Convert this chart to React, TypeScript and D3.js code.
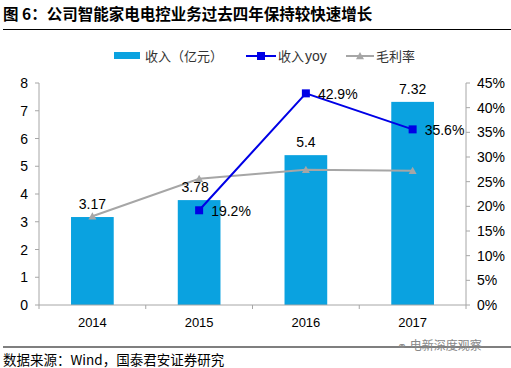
import { line, scaleBand, scaleLinear } from "d3";

const years = ["2014", "2015", "2016", "2017"];
const revenue = [3.17, 3.78, 5.4, 7.32];
const revenueYoy: (number | null)[] = [null, 19.2, 42.9, 35.6];
const grossMargin = [18.0, 25.6, 27.4, 27.2];
const leftTicks = [0, 1, 2, 3, 4, 5, 6, 7, 8];
const rightTicks = [0, 5, 10, 15, 20, 25, 30, 35, 40, 45];

const width = 511;
const height = 368;
const plot = { left: 39, right: 466, top: 83, bottom: 305 };
const font = "Arial, 'Liberation Sans', sans-serif";
const cjk = "'Noto Sans CJK SC', sans-serif";

export default function App() {
  const x = scaleBand<string>()
    .domain(years)
    .range([plot.left, plot.right])
    .paddingInner(0.6)
    .paddingOuter(0.3);
  const step = x.step();
  const yL = scaleLinear().domain([0, 8]).range([plot.bottom, plot.top]);
  const yR = scaleLinear().domain([0, 45]).range([plot.bottom, plot.top]);
  const cx = (d: string) => (x(d) ?? 0) + x.bandwidth() / 2;

  const yoyPts = years
    .map((d, i) => ({ d, v: revenueYoy[i] }))
    .filter((p) => p.v !== null) as { d: string; v: number }[];
  const yoyPath =
    line<{ d: string; v: number }>()
      .x((p) => cx(p.d))
      .y((p) => yR(p.v))(yoyPts) ?? "";
  const gmPath =
    line<number>()
      .x((_, i) => cx(years[i]))
      .y((v) => yR(v))(grossMargin) ?? "";

  const tri = (px: number, py: number, s = 4) =>
    `M${px},${py - s} L${px + s},${py + s * 0.8} L${px - s},${py + s * 0.8} Z`;

  const boundaries = years.map((_, i) => plot.left + i * step).concat([plot.right]);

  return (
    <svg
      width={width}
      height={height}
      style={{ position: "absolute", left: 0, top: 0, background: "#fff" }}
    >
      <text x={3} y={20} fontFamily={cjk} fontWeight={700} fontSize={15.5} fill="#000">
        图 6：公司智能家电电控业务过去四年保持较快速增长
      </text>
      <line x1={3} x2={511} y1={29.5} y2={29.5} stroke="#000" strokeWidth={1.2} />

      {/* legend */}
      <rect x={114} y={52} width={26} height={7} fill="#0AA2E0" />
      <text x={145} y={61} fontFamily={cjk} fontSize={13} fill="#333">收入（亿元）</text>
      <line x1={246} x2={276} y1={56} y2={56} stroke="#0000E6" strokeWidth={2} />
      <rect x={257} y={52} width={8} height={8} fill="#0000E6" />
      <text x={278} y={61} fontFamily={cjk} fontSize={13} fill="#333">收入</text>
      <text x={305} y={61} fontFamily={font} fontSize={14} fill="#333">yoy</text>
      <line x1={346} x2={374} y1={56} y2={56} stroke="#A6A6A6" strokeWidth={2} />
      <path d={tri(360, 56)} fill="#A6A6A6" />
      <text x={376} y={61} fontFamily={cjk} fontSize={13} fill="#333">毛利率</text>

      {/* bars */}
      {years.map((d, i) => (
        <rect
          key={d}
          x={x(d)}
          y={yL(revenue[i])}
          width={x.bandwidth()}
          height={plot.bottom - yL(revenue[i])}
          fill="#0AA2E0"
        />
      ))}

      {/* axes */}
      <line x1={plot.left} x2={plot.left} y1={plot.top} y2={plot.bottom} stroke="#A6A6A6" />
      <line x1={plot.right} x2={plot.right} y1={plot.top} y2={plot.bottom} stroke="#A6A6A6" />
      <line x1={plot.left} x2={plot.right} y1={plot.bottom} y2={plot.bottom} stroke="#A6A6A6" />
      {boundaries.map((bx, i) => (
        <line key={i} x1={bx} x2={bx} y1={plot.bottom} y2={plot.bottom + 4} stroke="#A6A6A6" />
      ))}
      {leftTicks.map((t) => (
        <g key={t}>
          <line x1={plot.left - 4} x2={plot.left} y1={yL(t)} y2={yL(t)} stroke="#A6A6A6" />
          <text x={28} y={yL(t) + 5} textAnchor="end" fontFamily={font} fontSize={14} fill="#000">
            {t}
          </text>
        </g>
      ))}
      {rightTicks.map((t) => (
        <g key={t}>
          <line x1={plot.right} x2={plot.right + 4} y1={yR(t)} y2={yR(t)} stroke="#A6A6A6" />
          <text x={477} y={yR(t) + 5} fontFamily={font} fontSize={14} fill="#000">
            {t}%
          </text>
        </g>
      ))}
      {years.map((d) => (
        <text key={d} x={cx(d)} y={plot.bottom + 22} textAnchor="middle" fontFamily={font} fontSize={13} fill="#000">
          {d}
        </text>
      ))}

      {/* gross margin line */}
      <path d={gmPath} fill="none" stroke="#A6A6A6" strokeWidth={2} />
      {grossMargin.map((v, i) => (
        <path key={i} d={tri(cx(years[i]), yR(v))} fill="#A6A6A6" />
      ))}

      {/* yoy line */}
      <path d={yoyPath} fill="none" stroke="#0000E6" strokeWidth={2} />
      {yoyPts.map((p) => (
        <rect key={p.d} x={cx(p.d) - 4} y={yR(p.v) - 4} width={8} height={8} fill="#0000E6" />
      ))}

      {/* bar labels */}
      {years.map((d, i) => (
        <text
          key={d}
          x={cx(d) - (i === 1 ? 4 : 0)}
          y={yL(revenue[i]) - 8}
          textAnchor="middle"
          fontFamily={font}
          fontSize={14}
          fill="#000"
        >
          {revenue[i]}
        </text>
      ))}
      {yoyPts.map((p) => (
        <text key={p.d} x={cx(p.d) + 12} y={yR(p.v) + 6} fontFamily={font} fontSize={14} fill="#000">
          {p.v.toFixed(1)}%
        </text>
      ))}

      <line x1={3} x2={511} y1={347} y2={347} stroke="#000" strokeWidth={1.2} />
      <text x={397} y={350} fontFamily={cjk} fontSize={12} fill="#888">
        ⚭ 电新深度观察
      </text>
      <text x={3} y={365} fontFamily={cjk} fontSize={13.5} fill="#000">
        数据来源：Wind，国泰君安证券研究
      </text>
    </svg>
  );
}
